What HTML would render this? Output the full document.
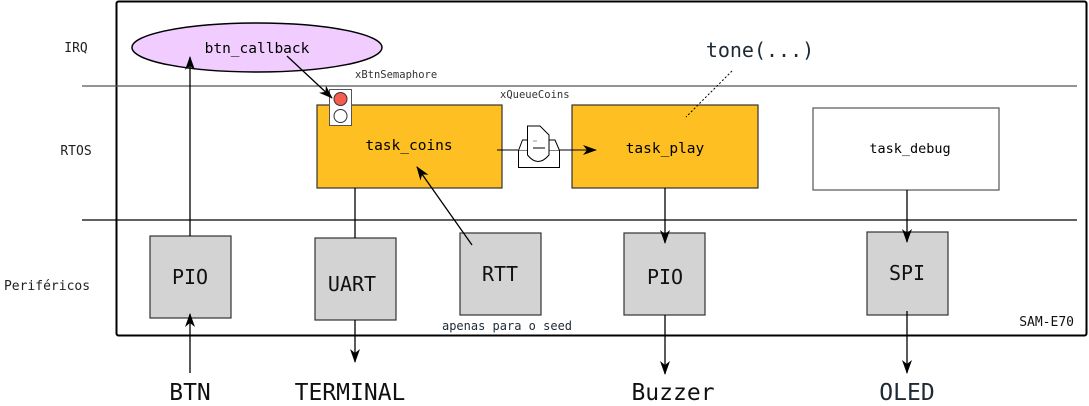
<!DOCTYPE html>
<html><head><style>
body{margin:0;background:#fff;}
svg{display:block;font-family:"DejaVu Sans Mono","Liberation Mono",monospace;}
</style></head><body>
<svg width="1089" height="406" viewBox="0 0 1089 406" xmlns="http://www.w3.org/2000/svg">
<defs>
<marker id="a" markerWidth="14" markerHeight="10" refX="13" refY="5" orient="auto" markerUnits="userSpaceOnUse">
<path d="M0,0 L14,5 L0,10 L4,5 Z" fill="#000"/></marker>
</defs>
<rect x="116.5" y="1.5" width="970" height="334" fill="#fff" stroke="#000" stroke-width="2" rx="2"/>
<line x1="82" y1="86" x2="1077" y2="86" stroke="#555" stroke-width="1.2"/>
<line x1="82" y1="220" x2="1077" y2="220" stroke="#000" stroke-width="1.2"/>
<g font-size="13" fill="#222" text-anchor="middle">
<text x="76" y="52">IRQ</text>
<text x="76" y="155">RTOS</text>
<text x="47" y="290">Periféricos</text>
</g>
<ellipse cx="257" cy="47.5" rx="125" ry="24.5" fill="#f0ccff" stroke="#000" stroke-width="1.5"/>
<text x="257" y="53" font-size="14.5" text-anchor="middle">btn_callback</text>
<rect x="317" y="105" width="185" height="83" fill="#fdbf22" stroke="#333" stroke-width="1.2"/>
<text x="409" y="150" font-size="14.5" text-anchor="middle">task_coins</text>
<rect x="572" y="105" width="186" height="83" fill="#fdbf22" stroke="#333" stroke-width="1.2"/>
<text x="665" y="153" font-size="14.5" text-anchor="middle">task_play</text>
<rect x="813" y="108" width="186" height="82" fill="#fff" stroke="#555" stroke-width="1.2"/>
<text x="910" y="153" font-size="13.5" text-anchor="middle">task_debug</text>
<rect x="329.5" y="89.5" width="22" height="36" fill="#fff" stroke="#555"/>
<circle cx="340.5" cy="99" r="6.5" fill="#f55d4f" stroke="#333"/>
<circle cx="340.5" cy="116" r="6.5" fill="#fff" stroke="#333"/>
<text x="355" y="78" font-size="10.5" fill="#333">xBtnSemaphore</text>
<text x="500" y="98" font-size="10.5" fill="#333">xQueueCoins</text>
<g fill="#fff" stroke="#000" stroke-width="1">
<rect x="518.5" y="150.5" width="41" height="17"/>
<path d="M518.5 150.5 L522.5 140 L555 140 L559.5 150.5"/>
<path d="M527.5 155 L527.5 126 L540 126 L549 135 L549 155 Q538 168 527.5 155 Z"/>
</g>
<line x1="533" y1="141" x2="537" y2="141" stroke="#999"/>
<line x1="533" y1="148" x2="545" y2="148" stroke="#000"/>
<line x1="497" y1="150" x2="518" y2="150" stroke="#000"/>
<line x1="559" y1="150" x2="596" y2="150" stroke="#000" marker-end="url(#a)"/>
<text x="760" y="57" font-size="20" text-anchor="middle" fill="#1e2a33">tone(...)</text>
<line x1="732" y1="71" x2="686" y2="117" stroke="#000" stroke-dasharray="2,2"/>
<g fill="#d3d3d3" stroke="#333" stroke-width="1.2">
<rect x="150" y="236" width="81" height="82"/>
<rect x="315" y="238" width="81" height="82"/>
<rect x="460" y="233" width="81" height="82"/>
<rect x="624" y="233" width="81" height="82"/>
<rect x="867" y="232" width="81" height="83"/>
</g>
<g font-size="20" text-anchor="middle" fill="#111">
<text x="190" y="284">PIO</text>
<text x="352" y="291">UART</text>
<text x="500" y="281">RTT</text>
<text x="665" y="284">PIO</text>
<text x="907" y="280">SPI</text>
</g>
<text x="507" y="330" font-size="12" text-anchor="middle" fill="#1e2a33">apenas para o seed</text>
<text x="1074" y="326" font-size="13" text-anchor="end" fill="#111">SAM-E70</text>
<g stroke="#000" stroke-width="1.3" fill="none">
<line x1="190" y1="236" x2="190" y2="57" marker-end="url(#a)"/>
<line x1="190" y1="373" x2="190" y2="314" marker-end="url(#a)"/>
<line x1="287" y1="56" x2="332" y2="98" marker-end="url(#a)"/>
<line x1="355" y1="188" x2="355" y2="238"/>
<line x1="355" y1="320" x2="355" y2="362" marker-end="url(#a)"/>
<line x1="472" y1="245" x2="417" y2="167" marker-end="url(#a)"/>
<line x1="665" y1="188" x2="665" y2="243" marker-end="url(#a)"/>
<line x1="665" y1="315" x2="665" y2="374" marker-end="url(#a)"/>
<line x1="907" y1="190" x2="907" y2="242" marker-end="url(#a)"/>
<line x1="907" y1="311" x2="907" y2="373" marker-end="url(#a)"/>
</g>
<g font-size="23" text-anchor="middle" fill="#111">
<text x="190" y="400">BTN</text>
<text x="350" y="400">TERMINAL</text>
<text x="673" y="400">Buzzer</text>
<text x="907" y="400" fill="#1e2a33">OLED</text>
</g>
</svg>
</body></html>
